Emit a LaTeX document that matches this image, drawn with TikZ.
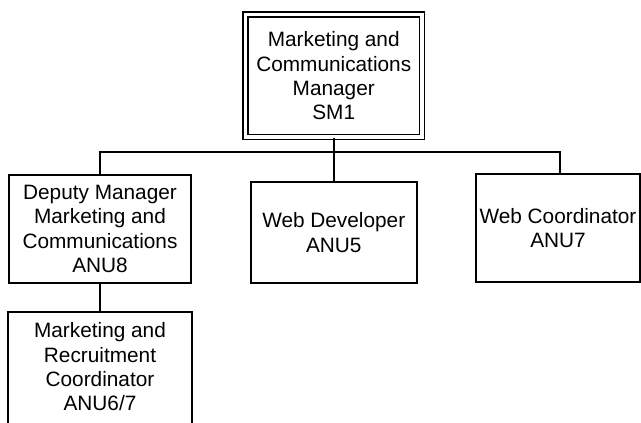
\documentclass[tikz,border=0pt]{standalone}
\usepackage{fontspec}
\setmainfont{Liberation Sans}
\begin{document}
\begin{tikzpicture}[x=1pt,y=-1pt,
  role/.style={draw, line width=1.6pt, inner sep=0pt, align=center,
    font=\fontsize{20.8}{24.3}\selectfont},
  head/.style={role, double, double distance=3.4pt, line width=1.4pt},
  link/.style={line width=1.6pt}]
\useasboundingbox (0,0) rectangle (641,423);
\clip (0,0) rectangle (641,423);

% head of the unit
\node[head, minimum width=176.5pt, minimum height=122.5pt] (mgr) at (333.75,75.75)
  {Marketing and\\Communications\\Manager\\SM1};

% direct reports
\node[role, minimum width=182pt, minimum height=108pt] (dep) at (100,229)
  {Deputy Manager\\Marketing and\\Communications\\ANU8};
\node[role, minimum width=166pt, minimum height=101pt] (web) at (333.75,232.5)
  {Web Developer\\ANU5};
\node[role, minimum width=164pt, minimum height=108pt] (wco) at (558,228)
  {Web Coordinator\\ANU7};

% reports to the deputy; the box runs past the lower edge
\node[role, draw=none, minimum width=182pt, minimum height=108pt] (mrc) at (100,367)
  {Marketing and\\Recruitment\\Coordinator\\ANU6/7};
\draw[link] ([yshift=-20pt]mrc.south west) -- (mrc.north west)
  -- (mrc.north east) -- ([yshift=-20pt]mrc.south east);

% connectors
\coordinate (barL) at (100,152);
\coordinate (barR) at (560,152);
\draw[link] (mgr.south) -- (web.north);
\draw[link] (dep.north) -- (barL) -- (barR) -- (barR |- wco.north);
\draw[link] (dep.south) -- (mrc.north);
\end{tikzpicture}
\end{document}
